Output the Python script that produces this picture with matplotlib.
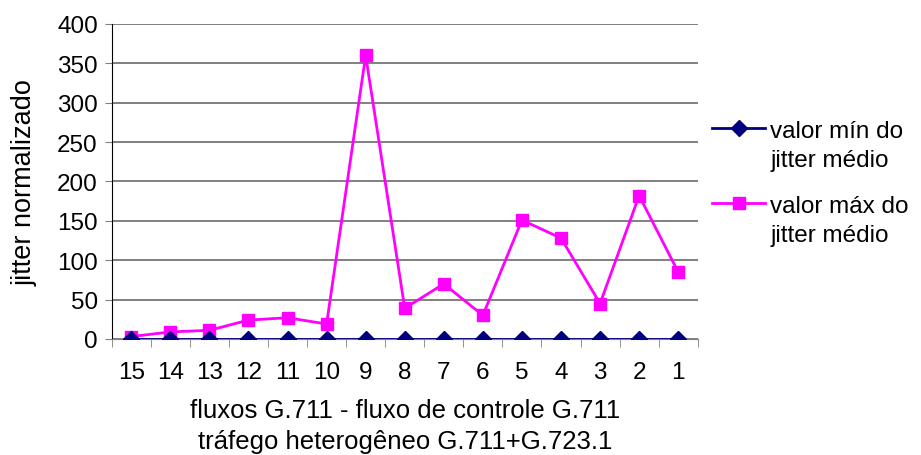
import numpy as np
import matplotlib.pyplot as plt
import matplotlib.transforms as mtransforms
from matplotlib.legend_handler import HandlerLine2D

plt.rcParams['font.family'] = ['Liberation Sans', 'DejaVu Sans']

# x categories (number of G.711 flows), read left to right
fluxos = ['15', '14', '13', '12', '11', '10', '9', '8', '7', '6', '5', '4', '3', '2', '1']
jitter_min = [0, 0, 0, 0, 0, 0, 0, 0, 0, 0, 0, 0, 0, 0, 0]
jitter_max = [3, 9, 11, 24, 27, 19, 360, 39, 70, 30, 151, 128, 45, 182, 85]

FS = 17.5


class TopLineHandler(HandlerLine2D):
    '''legend handle lined up with the first line of a two line label'''
    def create_artists(self, legend, orig_handle, xdescent, ydescent,
                       width, height, fontsize, trans):
        up = mtransforms.Affine2D().translate(0, 0.72 * fontsize)
        return super().create_artists(legend, orig_handle, xdescent, ydescent,
                                      width, height, fontsize, up + trans)


fig = plt.figure(figsize=(9.21, 4.56), dpi=100)
ax = fig.add_axes([0.1213, 0.2544, 0.6363, 0.691])

x = np.arange(len(fluxos))
l1, = ax.plot(x, jitter_min, color='#000080', marker='D', markersize=8, lw=2,
              label='valor mín do\njitter médio', zorder=4)
l2, = ax.plot(x, jitter_max, color='#FF00FF', marker='s', markersize=9, lw=2,
              label='valor máx do\njitter médio', zorder=3)

ax.set_xlim(-0.5, len(fluxos) - 0.5)
ax.set_ylim(0, 400)
ax.set_yticks(range(0, 401, 50))
ax.yaxis.grid(True, color='#808080', lw=1.4)
ax.set_axisbelow(True)

# category labels centred, ticks on the boundaries
ax.set_xticks(x)
ax.set_xticklabels(fluxos)
ax.tick_params(axis='x', length=0, pad=16, labelsize=FS)
ax.set_xticks(np.arange(-0.5, len(fluxos)), minor=True)
ax.tick_params(axis='x', which='minor', length=6, color='#808080')
ax.tick_params(axis='y', length=5, labelsize=FS, pad=5, color='#808080')

for s in ['top', 'right']:
    ax.spines[s].set_visible(False)
ax.spines['bottom'].set_color('#808080')
ax.spines['left'].set_color('black')

ax.set_ylabel('jitter normalizado', fontsize=19.5, labelpad=14)
ax.set_xlabel('fluxos G.711 - fluxo de controle G.711\ntráfego heterogêneo G.711+G.723.1',
              fontsize=18.5, labelpad=11, linespacing=1.32)

leg = fig.legend(handles=[l1, l2], loc='center left',
                 bbox_to_anchor=(712 / 921, 1 - 184 / 456), bbox_transform=fig.transFigure,
                 frameon=False, fontsize=FS, handlelength=2.2, handletextpad=0.2,
                 labelspacing=0.95, borderpad=0, borderaxespad=0,
                 handler_map={l1: TopLineHandler(), l2: TopLineHandler()})
for t in leg.get_texts():
    t.set_linespacing(1.45)

fig.savefig('out.png', dpi=100)
